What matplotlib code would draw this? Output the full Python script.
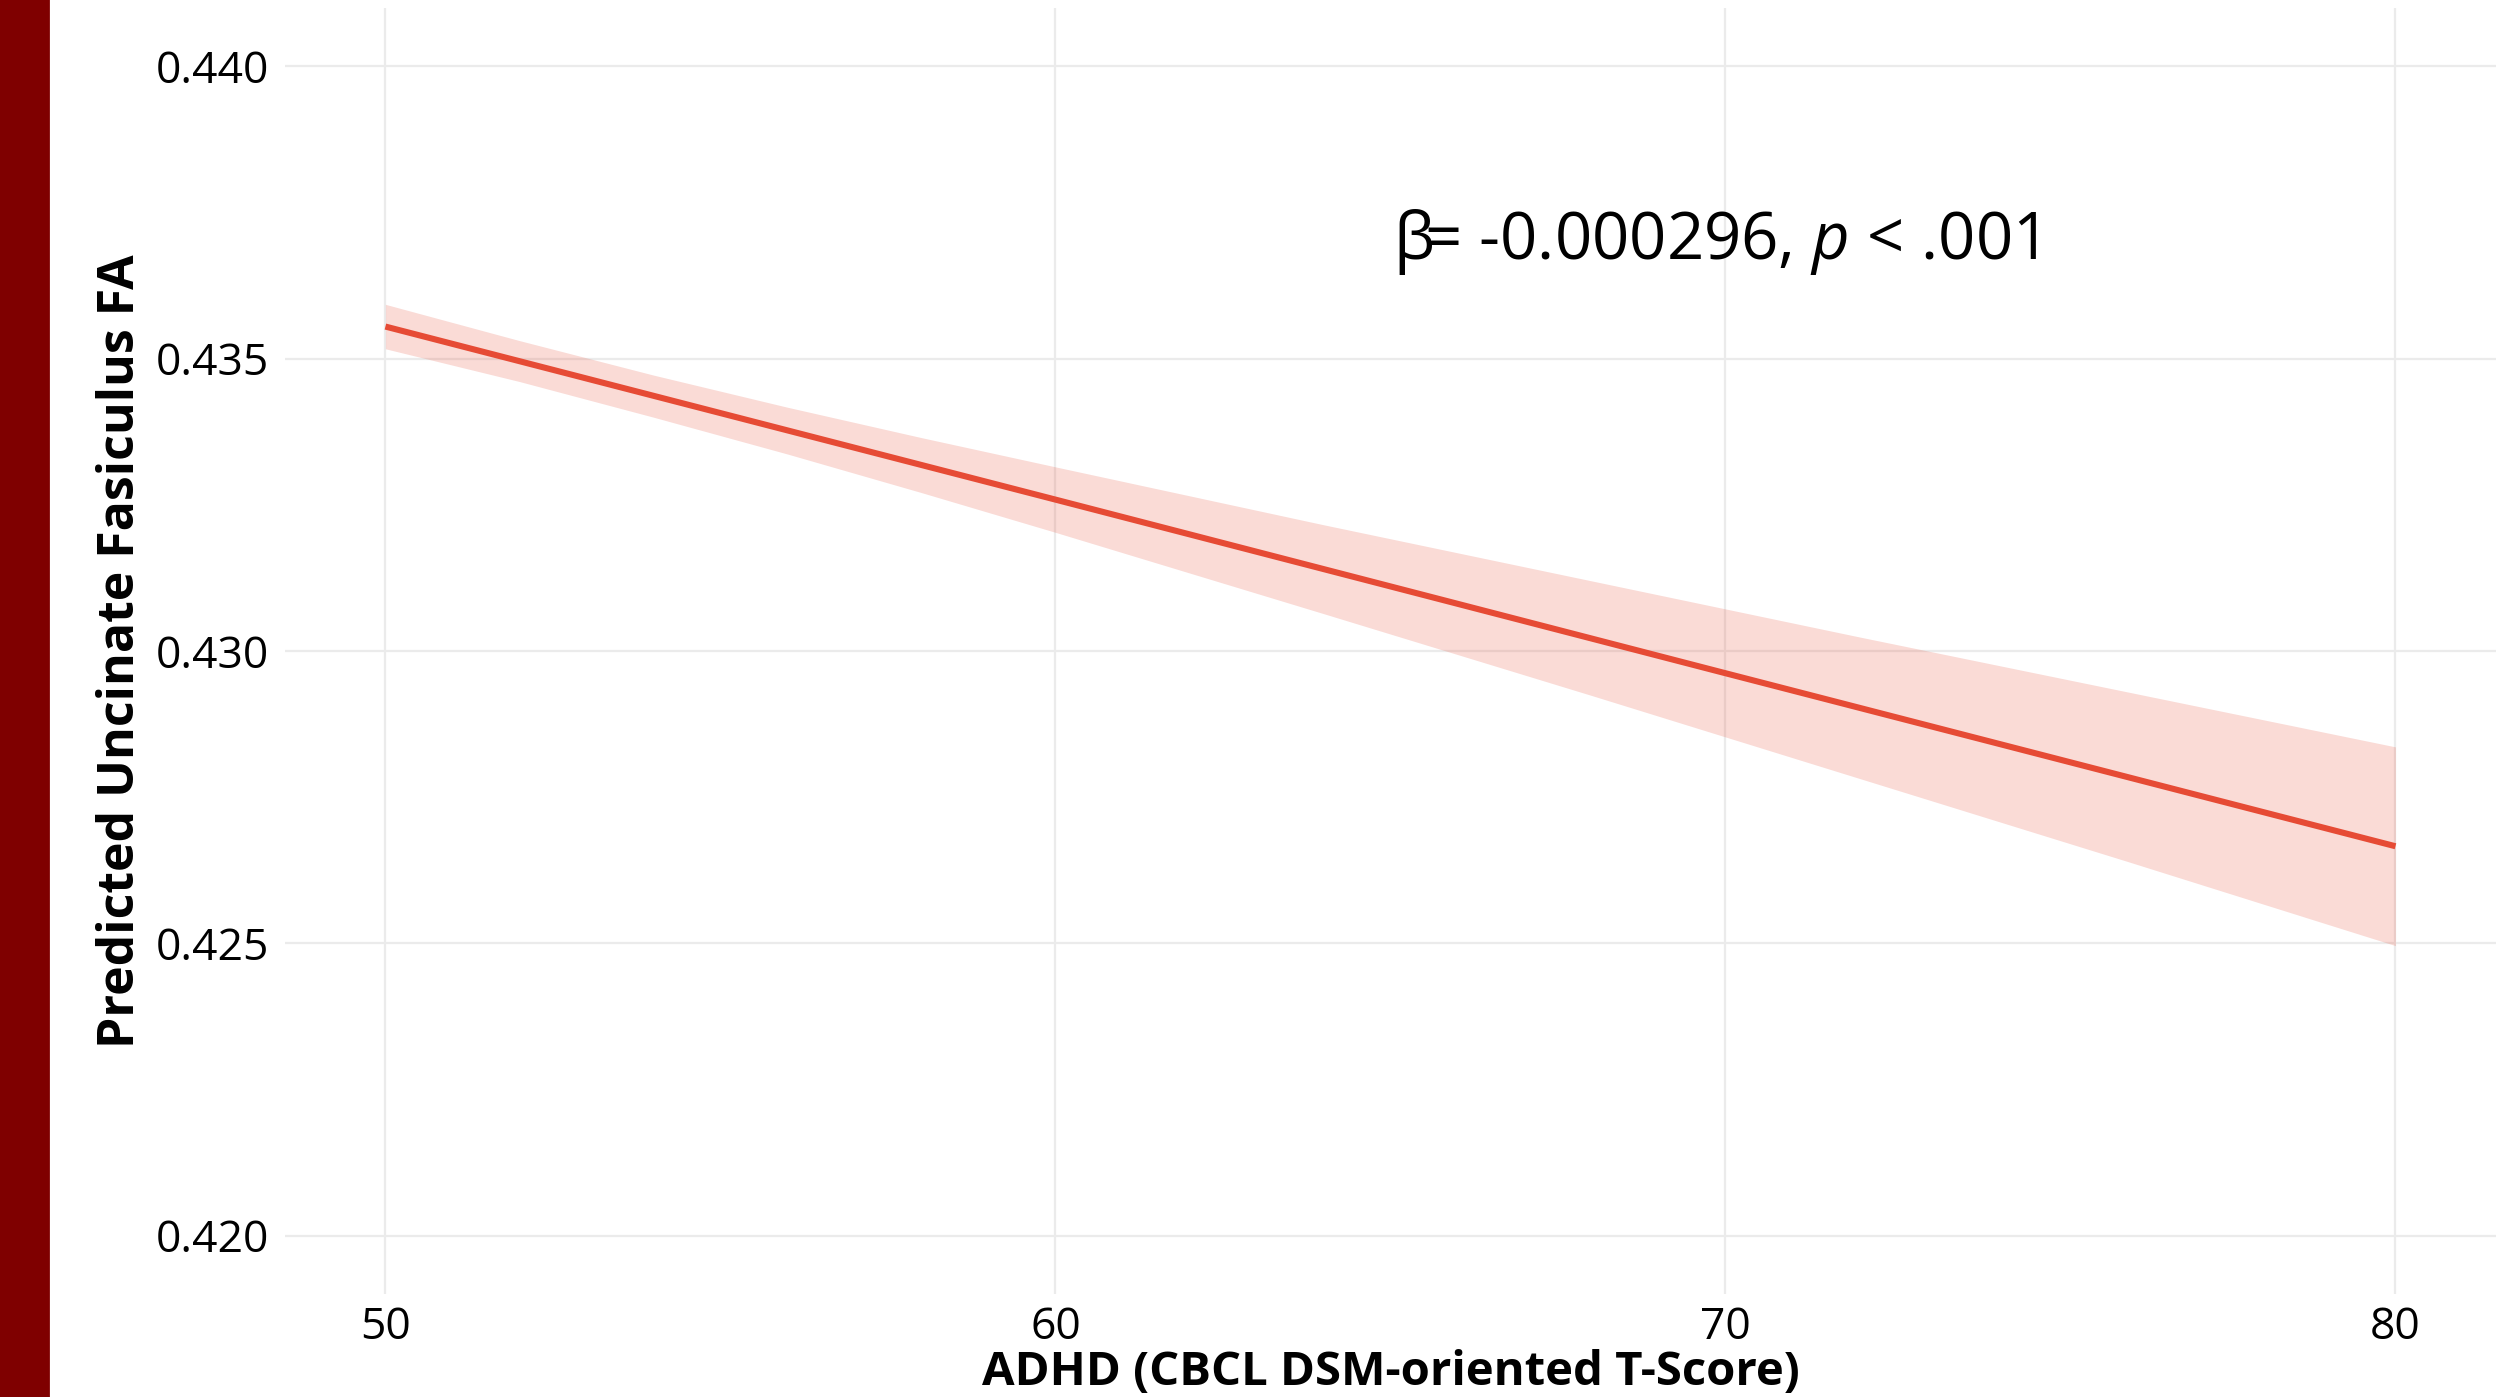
#!/usr/bin/env python3
"""Predicted uncinate fasciculus FA against ADHD T-score, with the model's
confidence band and the slope annotation. Saves out.png."""
import matplotlib
matplotlib.use("Agg")
import matplotlib.pyplot as plt
from matplotlib.patches import Rectangle

# fitted line
line_x = [50, 60, 70, 80]
line_y = [0.43555, 0.43259, 0.42962, 0.42666]

# confidence band edges
band_x = [50, 52, 54, 56, 58, 60, 64, 68, 72, 76, 80]
band_hi = [0.43593, 0.43531, 0.43472, 0.43417, 0.43365, 0.43315,
           0.43216, 0.43120, 0.43024, 0.42930, 0.42836]
band_lo = [0.43517, 0.43461, 0.43400, 0.43337, 0.43271, 0.43203,
           0.43064, 0.42924, 0.42782, 0.42640, 0.42496]

x_ticks = [50, 60, 70, 80]
y_ticks = [0.420, 0.425, 0.430, 0.435, 0.440]

LINE = "#E64B35"
GRID = "#EBEBEB"
BAR = "#7F0000"

plt.rcParams["font.family"] = ["Open Sans", "DejaVu Sans"]
plt.rcParams["mathtext.fontset"] = "custom"
plt.rcParams["mathtext.it"] = "Open Sans:italic"
plt.rcParams["mathtext.rm"] = "Open Sans"

fig = plt.figure(figsize=(12.54, 6.985), dpi=200)
ax = fig.add_axes([0.1136, 0.0737, 0.8816, 0.9206])

ax.fill_between(band_x, band_lo, band_hi, color=LINE, alpha=0.2, lw=0,
                zorder=2)
ax.plot(line_x, line_y, color=LINE, lw=2.2, zorder=3,
        solid_capstyle="butt")

ax.set_xlim(48.5, 81.5)
ax.set_ylim(0.419, 0.441)
ax.set_xticks(x_ticks)
ax.set_yticks(y_ticks)
ax.set_yticklabels([f"{v:.3f}" for v in y_ticks])
ax.grid(True, color=GRID, lw=0.8, zorder=0)
ax.set_axisbelow(True)
for s in ax.spines.values():
    s.set_visible(False)
ax.tick_params(axis="both", length=0, labelsize=16, labelcolor="black")
ax.tick_params(axis="x", pad=4)
ax.tick_params(axis="y", pad=5.8)

# squeezed between the tick labels and the bottom edge
ax.set_xlabel("ADHD (CBCL DSM-oriented T-Score)", fontsize=17,
              fontweight="bold", va="bottom")
ax.xaxis.set_label_coords(0.5, -0.0793)
ax.set_ylabel("Predicted Uncinate Fasiculus FA", fontsize=18,
              fontweight="bold")
ax.yaxis.set_label_coords(-0.063, 0.5)

ax.text(69.85, 0.43700, r"β$\!$= -0.000296, $\mathit{p}$ < .001",
        fontsize=23.5, ha="center", va="center", zorder=4)

# maroon strip down the left edge
fig.patches.append(Rectangle((0, 0), 48 / 2508, 1, transform=fig.transFigure,
                             color=BAR, zorder=5))

fig.savefig("out.png", dpi=200)
